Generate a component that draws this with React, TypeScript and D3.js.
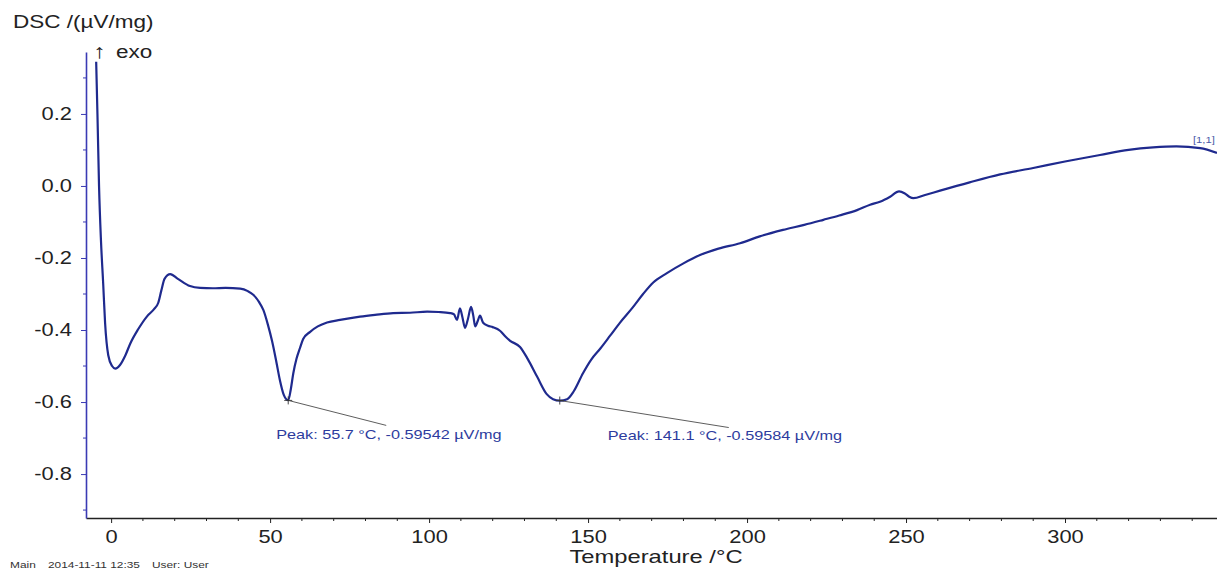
import * as d3 from "d3";
import { useRef, useEffect } from "react";

// DSC curve
const temps = [
  -4.7, -4.3, -3.8, -3.2, -2.5, -1.9, -0.9, 0.3, 1.3, 2.8, 4.5, 6, 8.5, 11.3, 13.5, 14.8, 15.8, 16.8,
  18.6, 21, 24.8, 28, 32, 36, 40.6, 43, 44.7, 46.5, 47.9, 49.3, 50.6, 52, 53.1, 54.3, 55.7, 56.5,
  57.3, 58.3, 59.4, 60.4, 62.6, 65, 67.9, 72, 78.3, 83, 88.7, 94, 99.4, 103, 106.6, 107.8, 108.8,
  109.7, 110.5, 111.3, 112.2, 113.2, 113.9, 114.5, 115.3, 116, 117, 118.5, 120, 122.3, 124, 125.5,
  128.6, 131, 134, 137, 139, 141.1, 143.4, 145.5, 148.4, 151, 153.8, 157, 160, 164, 167.3, 170.5,
  174.8, 180, 185.2, 191, 197.8, 204, 211.3, 218, 224, 229, 234.6, 238.7, 241.8, 245, 247.8, 249.5,
  251, 252.3, 256, 260.7, 270, 279.6, 290, 300, 311, 320, 327.7, 335, 342.5, 347.8,
];
const dsc = [
  0.345, 0.2, 0.0, -0.15, -0.27, -0.38, -0.47, -0.5, -0.507, -0.497, -0.47, -0.438, -0.398, -0.362,
  -0.342, -0.325, -0.29, -0.258, -0.245, -0.258, -0.278, -0.283, -0.284, -0.283, -0.285, -0.292,
  -0.302, -0.322, -0.345, -0.385, -0.43, -0.49, -0.54, -0.58, -0.595, -0.565, -0.52, -0.48, -0.45,
  -0.425, -0.405, -0.39, -0.379, -0.372, -0.363, -0.358, -0.353, -0.352, -0.349, -0.35, -0.353,
  -0.356, -0.372, -0.34, -0.365, -0.394, -0.37, -0.336, -0.36, -0.39, -0.375, -0.36, -0.38, -0.388,
  -0.392, -0.402, -0.418, -0.43, -0.447, -0.48, -0.53, -0.578, -0.592, -0.596, -0.592, -0.57, -0.52,
  -0.482, -0.452, -0.415, -0.38, -0.338, -0.3, -0.268, -0.242, -0.215, -0.192, -0.174, -0.159, -0.14,
  -0.122, -0.108, -0.094, -0.082, -0.067, -0.052, -0.044, -0.03, -0.015, -0.02, -0.03, -0.034,
  -0.025, -0.013, 0.01, 0.032, 0.05, 0.068, 0.086, 0.1, 0.107, 0.11, 0.105, 0.092,
];

const peakTemps = [55.7, 141.1];
const peakValues = [-0.59542, -0.59584];
const peakLabels = [
  "Peak: 55.7 °C, -0.59542 µV/mg",
  "Peak: 141.1 °C, -0.59584 µV/mg",
];

const xDomain = [-7.9, 347.8];
const yDomain = [-0.922, 0.372];
const xTicks = [0, 50, 100, 150, 200, 250, 300];
const yTicks = [0.2, 0.0, -0.2, -0.4, -0.6, -0.8];

const W = 1217;
const H = 570;
const FONT = "'Liberation Sans', Arial, sans-serif";
// the source picture is stretched sideways, so is its text
const SX = 1.25;

const App = () => {
  const container = useRef<SVGSVGElement>(null);

  useEffect(() => {
    const svg = d3.select(container.current);
    svg.selectAll("*").remove();

    const plot = { l: 86, r: 1217, t: 52, b: 518 };
    const lineColor = "#1f2a8e";
    const axisBlue = "#3a3ab4";
    const noteColor = "#2d3c9e";

    const xScale = d3.scaleLinear().domain(xDomain).range([plot.l, plot.r]);
    const yScale = d3.scaleLinear().domain(yDomain).range([plot.b, plot.t]);

    const label = (x: number, y: number, txt: string, size: number, fill: string, anchor = "start") =>
      svg
        .append("text")
        .attr("transform", `translate(${x},${y}) scale(${SX},1)`)
        .attr("text-anchor", anchor)
        .attr("font-family", FONT)
        .attr("font-size", size)
        .attr("fill", fill)
        .text(txt);

    // --- AXES
    const xMinor = d3.range(0, 350, 10).filter((d) => d % 50 !== 0);
    svg
      .append("g")
      .attr("class", "x-minor")
      .selectAll("line")
      .data(xMinor)
      .join("line")
      .attr("x1", (d) => xScale(d))
      .attr("x2", (d) => xScale(d))
      .attr("y1", plot.b)
      .attr("y2", plot.b + 3)
      .attr("stroke", "#222");

    svg
      .append("g")
      .attr("class", "x-axis-g")
      .attr("transform", `translate(0,${plot.b})`)
      .call(d3.axisBottom(xScale).tickValues(xTicks).tickSize(5).tickSizeOuter(0).tickFormat(d3.format("d")))
      .call((g) => g.select(".domain").attr("stroke", "#222").attr("stroke-width", 1.3))
      .call((g) => g.selectAll(".tick line").attr("stroke", "#222"))
      .call((g) =>
        g
          .selectAll(".tick text")
          .attr("font-family", FONT)
          .attr("font-size", 17.5)
          .attr("fill", "#222")
          .attr("y", 0)
          .attr("dy", 0)
          .attr("transform", `translate(0,25) scale(${SX},1)`)
      );

    const yMinor = d3.range(-9, 4).map((d) => d / 10).filter((d) => Math.abs(Math.round(d * 10)) % 2 === 1);
    svg
      .append("g")
      .attr("class", "y-minor")
      .selectAll("line")
      .data(yMinor)
      .join("line")
      .attr("x1", plot.l - 3)
      .attr("x2", plot.l)
      .attr("y1", (d) => yScale(d))
      .attr("y2", (d) => yScale(d))
      .attr("stroke", axisBlue);

    const yFmt = (d: number) => d3.format(".1f")(d).replace("−", "-");
    svg
      .append("g")
      .attr("class", "y-axis-g")
      .attr("transform", `translate(${plot.l},0)`)
      .call(d3.axisLeft(yScale).tickValues(yTicks).tickSize(5).tickSizeOuter(0).tickFormat(yFmt as any))
      .call((g) => g.select(".domain").attr("stroke", axisBlue).attr("stroke-width", 1.6))
      .call((g) => g.selectAll(".tick line").attr("stroke", axisBlue))
      .call((g) =>
        g
          .selectAll(".tick text")
          .attr("font-family", FONT)
          .attr("font-size", 17.5)
          .attr("fill", "#222")
          .attr("x", 0)
          .attr("transform", `translate(-14,0) scale(${SX},1)`)
      );

    // --- CURVE
    const pts = temps.map((t, i) => [t, dsc[i]] as [number, number]);
    const lineGen = d3
      .line<[number, number]>()
      .x((d) => xScale(d[0]))
      .y((d) => yScale(d[1]))
      .curve(d3.curveMonotoneX);

    svg
      .append("path")
      .attr("d", lineGen(pts))
      .attr("fill", "none")
      .attr("stroke", lineColor)
      .attr("stroke-width", 2.2)
      .attr("stroke-linejoin", "round");

    // --- PEAK ANNOTATIONS
    const leader = [
      { dx: 98, dy: 25, tx: -12 },
      { dx: 169, dy: 27, tx: 48 },
    ];
    peakTemps.forEach((t, i) => {
      const px = xScale(t);
      const py = yScale(peakValues[i]);
      svg
        .append("line")
        .attr("x1", px)
        .attr("y1", py)
        .attr("x2", px + leader[i].dx)
        .attr("y2", py + leader[i].dy)
        .attr("stroke", "#333")
        .attr("stroke-width", 0.8);
      svg
        .append("path")
        .attr("d", `M${px - 4},${py}H${px + 4}M${px},${py - 4}V${py + 4}`)
        .attr("stroke", "#333")
        .attr("stroke-width", 0.9);
      label(px + leader[i].tx, py + 39, peakLabels[i], 13, noteColor);
    });

    // --- TITLES
    label(13, 28, "DSC /(µV/mg)", 18, "#222");
    label(93, 58, "↑", 20, "#222");
    label(116, 58, "exo", 18, "#222");
    label(656, 563, "Temperature /°C", 19, "#222", "middle");
    label(10, 568, "Main", 9.5, "#333");
    label(48, 568, "2014-11-11 12:35", 9.5, "#333");
    label(152, 568, "User: User", 9.5, "#333");
    label(1193, 143, "[1,1]", 9, "#4a5aa8");
  });

  return (
    <svg
      ref={container}
      width={W}
      height={H}
      style={{ position: "absolute", left: 0, top: 0, background: "#fff" }}
    ></svg>
  );
};

export default App;
